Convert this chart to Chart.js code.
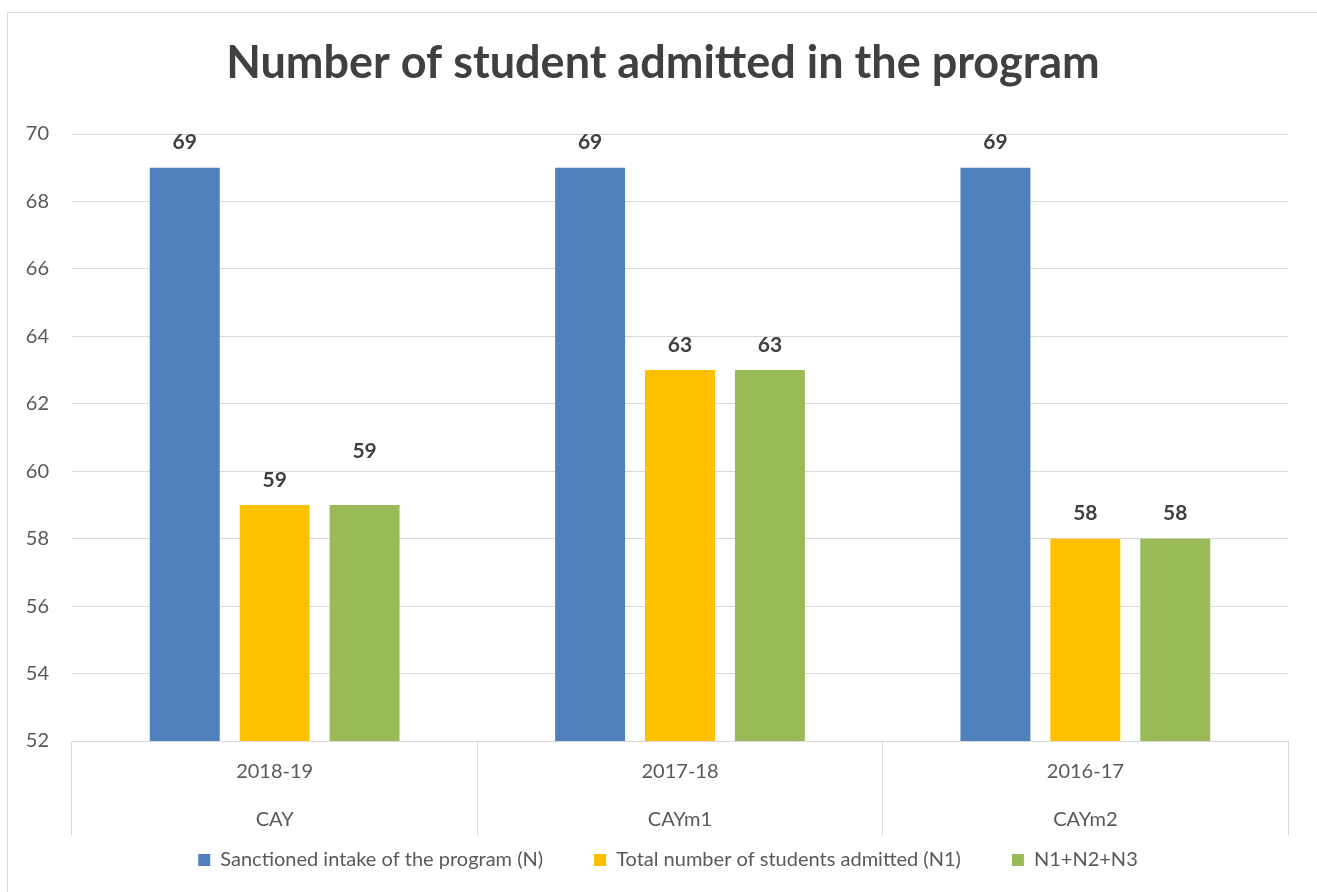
<!DOCTYPE html>
<html>
<head>
<meta charset="utf-8">
<script src="https://cdn.jsdelivr.net/npm/chart.js@4.4.1/dist/chart.umd.min.js"></script>
<style>
    html, body { margin: 0; padding: 0; background: #fff; overflow: hidden; }
    #frame {
        position: absolute; left: 7px; top: 12px; width: 1400px; height: 1000px;
        border-left: 1px solid #d9d9d9; border-top: 1px solid #d9d9d9;
    }
    #admitChart { position: absolute; left: 8px; top: 13px; }
</style>
</head>
<body>
<div id="frame"></div>
<canvas id="admitChart" width="1309" height="903"></canvas>
<script>
const years = ['2018-19', '2017-18', '2016-17'];
const yearCodes = ['CAY', 'CAYm1', 'CAYm2'];
const sanctioned = [69, 69, 69];
const admitted = [59, 63, 58];
const n1n2n3 = [59, 63, 58];
const yTicks = [52, 70, 2]; // min, max, step

const FONT = 'Lato, "Open Sans", sans-serif';

// value labels above each bar
const barValueLabels = {
    id: 'barValueLabels',
    afterDatasetsDraw(chart, args, opts) {
        const ctx = chart.ctx;
        ctx.save();
        ctx.font = `bold 21px ${FONT}`;
        ctx.fillStyle = '#404040';
        ctx.textAlign = 'center';
        ctx.textBaseline = 'middle';
        chart.data.datasets.forEach((ds, di) => {
            const meta = chart.getDatasetMeta(di);
            meta.data.forEach((bar, i) => {
                const lift = (opts.lift[di] && opts.lift[di][i]) || 0;
                ctx.fillText(ds.data[i], bar.x, bar.y - 25 - lift);
            });
        });
        ctx.restore();
    }
};

// pull the legend up under the category labels (labels.padding is only wanted as item spacing)
// and nudge legend + title a little right of the canvas centre
const legendPlacement = {
    id: 'legendPlacement',
    afterLayout(chart, args, opts) {
        const lg = chart.legend;
        if (lg) {
            lg.top = opts.itemTop - lg.options.labels.padding;
            lg.left += opts.legendShiftX;
            lg.right += opts.legendShiftX;
        }
        const tb = chart.titleBlock;
        if (tb) {
            tb.left += opts.titleShiftX;
            tb.right += opts.titleShiftX;
        }
    }
};

new Chart(document.getElementById('admitChart').getContext('2d'), {
    type: 'bar',
    data: {
        labels: years.map((y, i) => [y, yearCodes[i]]),
        datasets: [
            { label: 'Sanctioned intake of the program (N)', data: sanctioned, backgroundColor: '#4F81BD' },
            { label: 'Total number of students admitted (N1)', data: admitted, backgroundColor: '#FFC000' },
            { label: 'N1+N2+N3', data: n1n2n3, backgroundColor: '#9BBB59' }
        ]
    },
    options: {
        responsive: false,
        animation: false,
        categoryPercentage: 0.6655,
        barPercentage: 0.778,
        layout: { padding: { left: 0, right: 29, top: 0, bottom: 0 } },
        scales: {
            x: {
                grid: { offset: true, drawOnChartArea: false, tickLength: 94, color: '#d9d9d9' },
                border: { display: true, color: '#d9d9d9' },
                ticks: {
                    padding: -87, maxRotation: 0, autoSkip: false,
                    color: '#595959', font: { family: FONT, size: 20, lineHeight: 2.4 }
                },
                afterFit: (scale) => { scale.height = 94; }
            },
            y: {
                min: yTicks[0], max: yTicks[1],
                grid: { color: '#d9d9d9', drawTicks: false },
                border: { display: false },
                ticks: { stepSize: yTicks[2], padding: 23, color: '#595959', font: { family: FONT, size: 20 } },
                afterFit: (scale) => { scale.width = 64; }
            }
        },
        plugins: {
            title: {
                display: true,
                text: 'Number of student admitted in the program',
                color: '#404040',
                font: { family: FONT, size: 45, weight: 'bold', lineHeight: 1.2 },
                padding: { top: 23, bottom: 44 }
            },
            legend: {
                position: 'bottom',
                labels: {
                    boxWidth: 12, boxHeight: 12, padding: 51,
                    color: '#595959', font: { family: FONT, size: 20 }
                }
            },
            tooltip: { enabled: false },
            barValueLabels: { lift: [[0, 0, 0], [0, 0, 0], [29, 0, 0]] },
            legendPlacement: { itemTop: 837, legendShiftX: 20, titleShiftX: 15 }
        }
    },
    plugins: [barValueLabels, legendPlacement]
});
</script>
</body>
</html>
